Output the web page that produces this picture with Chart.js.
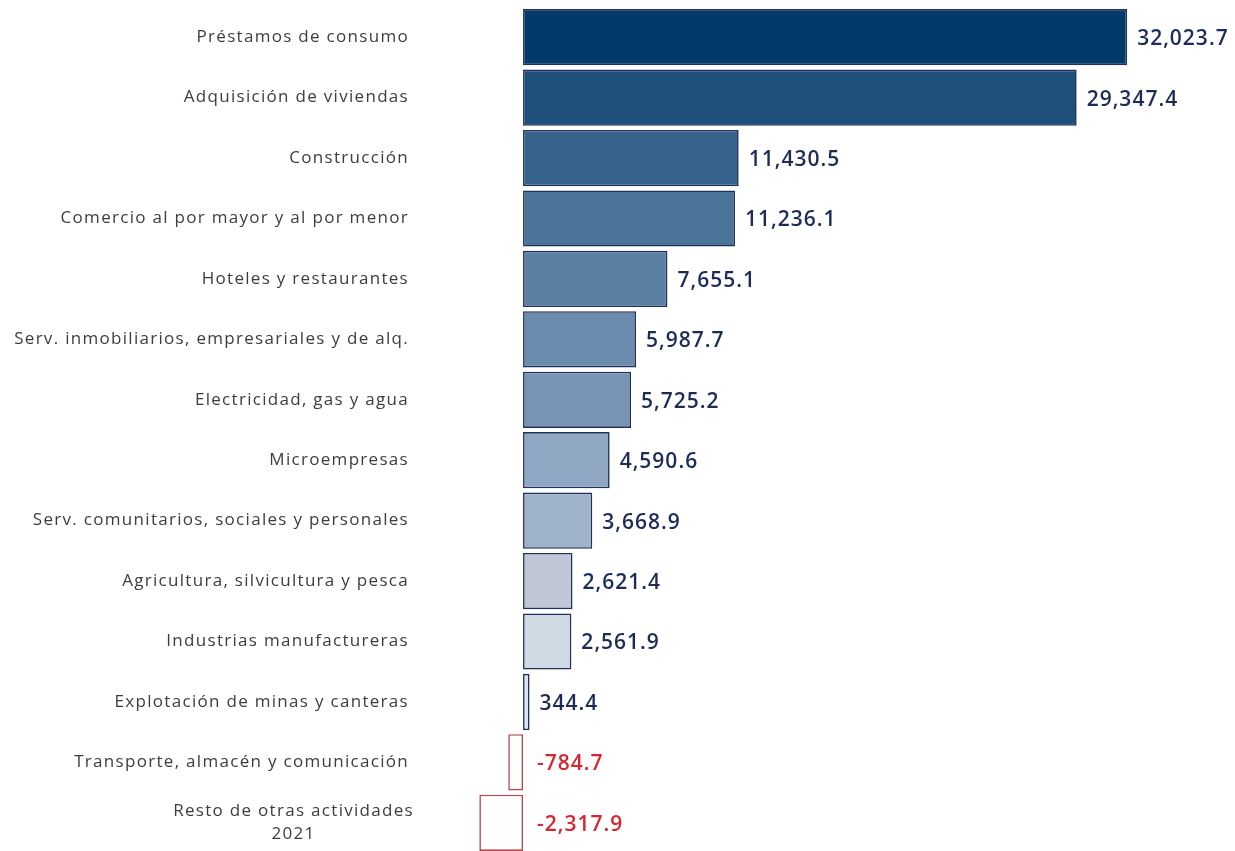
<!DOCTYPE html>
<html>
<head>
<meta charset="utf-8">
<script src="https://cdn.jsdelivr.net/npm/chart.js@4.4.1/dist/chart.umd.min.js"></script>
<style>
  html, body { margin: 0; padding: 0; background: #ffffff; overflow: hidden; }
  #wrap { width: 1235px; height: 853px; position: relative; }
</style>
</head>
<body>
<div id="wrap"><canvas id="creditChart"></canvas></div>
<script>
// categories (top to bottom)
const sectors = [
    'Préstamos de consumo',
    'Adquisición de viviendas',
    'Construcción',
    'Comercio al por mayor y al por menor',
    'Hoteles y restaurantes',
    'Serv. inmobiliarios, empresariales y de alq.',
    'Electricidad, gas y agua',
    'Microempresas',
    'Serv. comunitarios, sociales y personales',
    'Agricultura, silvicultura y pesca',
    'Industrias manufactureras',
    'Explotación de minas y canteras',
    'Transporte, almacén y comunicación',
    ['Resto de otras actividades', '2021']
];

// variation values
const variation = [
    32023.7, 29347.4, 11430.5, 11236.1, 7655.1, 5987.7, 5725.2,
    4590.6, 3668.9, 2621.4, 2561.9, 344.4, -784.7, -2317.9
];

// fill shades, dark to light
const shades = [
    '#023a6b', '#1f4f7b', '#35638b', '#4b7499', '#5a80a4', '#6a8bad', '#7794b4',
    '#8fa7c2', '#9fb3cb', '#bfc7d7', '#cfdae4', '#dde3ee', '#ffffff', '#ffffff'
];

const fmt = v => v.toLocaleString('en-US', { minimumFractionDigits: 1, maximumFractionDigits: 1 });

// value labels next to bars
const valueLabels = {
    id: 'valueLabels',
    afterDatasetsDraw(chart) {
        const c = chart.ctx;
        const zero = chart.scales.x.getPixelForValue(0);
        const bars = chart.getDatasetMeta(0).data;
        c.save();
        c.font = '600 21px "Open Sans"';
        c.letterSpacing = '1px';
        c.textBaseline = 'middle';
        c.textAlign = 'left';
        bars.forEach((bar, i) => {
            const v = variation[i];
            c.fillStyle = v < 0 ? '#d8262e' : '#1e2b58';
            const x = v < 0 ? zero + 14 : bar.x + 10;
            c.fillText(fmt(v), x, bar.y + 2);
        });
        c.restore();
    }
};

// category labels (multi-line one is centred like the original)
const sectorLabels = {
    id: 'sectorLabels',
    afterDraw(chart) {
        const c = chart.ctx;
        const y = chart.scales.y;
        const right = chart.chartArea.left - 65;
        c.save();
        c.font = '400 17px "Open Sans"';
        c.letterSpacing = '1.3px';
        c.fillStyle = '#3d3d3d';
        c.textBaseline = 'middle';
        sectors.forEach((s, i) => {
            const cy = y.getPixelForValue(i);
            if (Array.isArray(s)) {
                const w = Math.max(...s.map(t => c.measureText(t).width));
                const cx = right + 5 - w / 2;
                c.textAlign = 'center';
                s.forEach((t, k) => c.fillText(t, cx, cy - 12 + k * 23));
            } else {
                c.textAlign = 'right';
                c.fillText(s, right, cy);
            }
        });
        c.restore();
    }
};

const ctx = document.getElementById('creditChart').getContext('2d');
const creditChart = new Chart(ctx, {
    type: 'bar',
    data: {
        labels: sectors,
        datasets: [{
            data: variation,
            backgroundColor: shades,
            borderColor: variation.map(v => v < 0 ? '#b8474e' : '#1f3158'),
            borderWidth: 1.6,
            borderSkipped: false,
            barPercentage: 1,
            categoryPercentage: 0.93
        }]
    },
    options: {
        indexAxis: 'y',
        responsive: true,
        maintainAspectRatio: false,
        animation: false,
        layout: { padding: { top: 7, right: 14, bottom: 0, left: 0 } },
        plugins: {
            legend: { display: false },
            tooltip: { enabled: false }
        },
        scales: {
            x: {
                display: false,
                min: -2600,
                max: 37000
            },
            y: {
                grid: { display: false, drawTicks: false },
                border: { display: false },
                ticks: { display: false },
                afterFit: scale => { scale.width = 474; }
            }
        }
    },
    plugins: [valueLabels, sectorLabels]
});
</script>
</body>
</html>
